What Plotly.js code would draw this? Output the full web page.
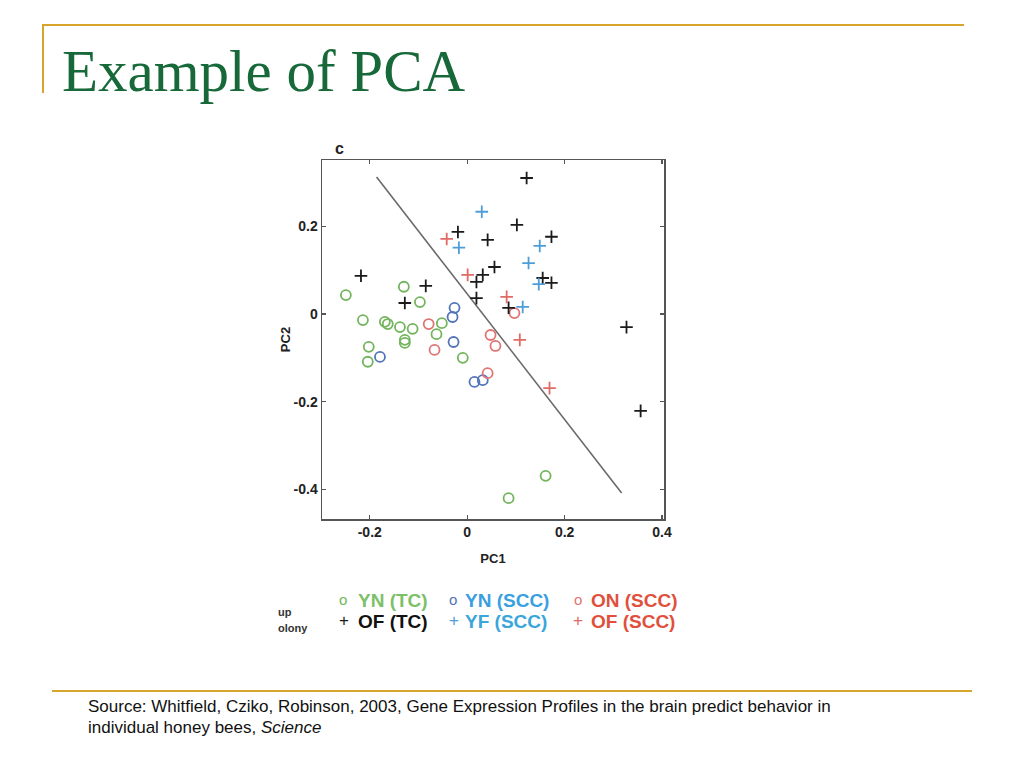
<!DOCTYPE html>
<html>
<head>
<meta charset="utf-8">
<script src="https://cdn.plot.ly/plotly-3.0.1.min.js"></script>
<style>
  html, body { margin:0; padding:0; background:#ffffff; }
  #wrap { position:relative; width:1024px; height:768px; overflow:hidden; background:#fff; }
  #chart { position:absolute; left:0; top:0; width:1024px; height:768px; }
  .gold { position:absolute; background:#d6a52a; }
  #slideTitle { position:absolute; left:62px; top:42px; font-family:"Liberation Serif","DejaVu Serif",serif;
    font-size:59px; line-height:59px; color:#17693a; white-space:nowrap; }
  #source { position:absolute; left:88px; top:696px; font-family:"Liberation Sans",Arial,sans-serif;
    font-size:17px; line-height:21px; color:#111; white-space:nowrap; }
</style>
</head>
<body>
<div id="wrap">
  <div id="chart"></div>
  <div class="gold" style="left:42px; top:24px; width:922px; height:2px;"></div>
  <div class="gold" style="left:42px; top:24px; width:2px; height:69px;"></div>
  <div class="gold" style="left:52px; top:690px; width:920px; height:2px;"></div>
  <div id="slideTitle">Example of PCA</div>
  <div id="source">Source: Whitfield, Cziko, Robinson, 2003, Gene Expression Profiles in the brain predict behavior in<br>individual honey bees, <i>Science</i></div>
</div>
<script>
// ---- data ----
var ynTC_x  = [-0.249,-0.130,-0.097,-0.214,-0.169,-0.163,-0.138,-0.112,-0.128,-0.128,-0.052,-0.063,-0.202,-0.204,-0.009,0.161,0.085];
var ynTC_y  = [0.043,0.062,0.027,-0.014,-0.018,-0.023,-0.030,-0.034,-0.059,-0.066,-0.021,-0.046,-0.075,-0.109,-0.100,-0.369,-0.420];

var ynSCC_x = [-0.026,-0.030,-0.028,-0.179,0.015,0.032];
var ynSCC_y = [0.014,-0.007,-0.064,-0.098,-0.155,-0.151];

var onSCC_x = [-0.079,-0.067,0.048,0.058,0.042,0.097];
var onSCC_y = [-0.023,-0.082,-0.048,-0.073,-0.135,0.002];

var ofTC_x  = [-0.218,-0.085,-0.128,-0.019,0.042,0.122,0.102,0.173,0.056,0.032,0.019,0.019,0.155,0.173,0.085,0.327,0.356];
var ofTC_y  = [0.087,0.064,0.025,0.187,0.169,0.310,0.203,0.176,0.107,0.089,0.073,0.036,0.082,0.071,0.014,-0.030,-0.221];

var yfSCC_x = [0.030,-0.017,0.149,0.126,0.147,0.114];
var yfSCC_y = [0.233,0.151,0.155,0.116,0.068,0.016];

var ofSCC_x = [-0.042,0.001,0.081,0.108,0.169];
var ofSCC_y = [0.171,0.089,0.039,-0.059,-0.169];

var sepLine_x = [-0.186,0.317];
var sepLine_y = [0.312,-0.408];

var xTickVals = [-0.2,0,0.2,0.4];
var xTickText = ["-0.2","0","0.2","0.4"];
var yTickVals = [0.2,0,-0.2,-0.4];
var yTickText = ["0.2","0","-0.2","-0.4"];

var legendRow1 = ["YN (TC)","YN (SCC)","ON (SCC)"];
var legendRow2 = ["OF (TC)","YF (SCC)","OF (SCC)"];

// ---- styles ----
var colGreen = "#72b55c", colBlueO = "#5274b8", colRedO = "#e07474",
    colBlack = "#1a1a1a", colBlueP = "#4d9ed8", colRedP = "#e06a64";

function circ(x,y,c,name){ return {type:"scatter",mode:"markers",x:x,y:y,name:name,showlegend:false,
  marker:{symbol:"circle-open",size:10,color:c,line:{width:1.8,color:c}},hoverinfo:"x+y+name"}; }
function plus(x,y,c,name){ return {type:"scatter",mode:"markers",x:x,y:y,name:name,showlegend:false,
  marker:{symbol:"cross-thin-open",size:9,color:c,line:{width:1.8,color:c}},hoverinfo:"x+y+name"}; }

var traces = [
  {type:"scatter",mode:"lines",x:sepLine_x,y:sepLine_y,showlegend:false,hoverinfo:"skip",
   line:{color:"#6a6a6a",width:1.6}},
  circ(ynTC_x,ynTC_y,colGreen,legendRow1[0]),
  circ(ynSCC_x,ynSCC_y,colBlueO,legendRow1[1]),
  circ(onSCC_x,onSCC_y,colRedO,legendRow1[2]),
  plus(ofTC_x,ofTC_y,colBlack,legendRow2[0]),
  plus(yfSCC_x,yfSCC_y,colBlueP,legendRow2[1]),
  plus(ofSCC_x,ofSCC_y,colRedP,legendRow2[2])
];

// plot box in page pixels
var L=322, R=664, T=160, B=519;
function px(x){ return (x-L)/(R-L); }
function py(y){ return (B-y)/(B-T); }

var fnt = "Liberation Sans, Arial, sans-serif";
function ann(text,x,y,size,color,xanchor,weight){
  return {text:text,xref:"paper",yref:"paper",x:px(x),y:py(y),xanchor:xanchor||"left",yanchor:"middle",
    showarrow:false,font:{family:fnt,size:size,color:color,weight:weight||"bold"}};
}

var annotations = [
  ann("c",333,148,16,"#222","left"),
  // legend glyphs
  ann("o",343,599,15,colGreen,"center","normal"),
  ann("o",453,599,15,colBlueO,"center","normal"),
  ann("o",578,599,15,colRedO,"center","normal"),
  ann("+",344,620,17,colBlack,"center","normal"),
  ann("+",454,620,17,colBlueP,"center","normal"),
  ann("+",578,620,17,colRedP,"center","normal"),
  // legend labels
  ann(legendRow1[0],356,600,19,"#7cc067","left"),
  ann(legendRow1[1],463,600,19,"#3a9fe0","left"),
  ann(legendRow1[2],589,600,19,"#e0503c","left"),
  ann(legendRow2[0],356,621,19,"#111","left"),
  ann(legendRow2[1],463,621,19,"#3aa6da","left"),
  ann(legendRow2[2],589,621,19,"#e0503c","left"),
  // cropped group labels
  ann("up",276,612,11,"#333","left"),
  ann("olony",276,628,11,"#333","left")
];

var axisCommon = {showline:true,mirror:"ticks",linecolor:"#555",linewidth:1.5,ticks:"inside",ticklen:4,
  tickcolor:"#555",tickwidth:1.2,showgrid:false,zeroline:false,tickmode:"array",
  tickfont:{family:fnt,size:14,color:"#222",weight:"bold"}};

var layout = {
  width:1024,height:768,
  margin:{l:L,r:1024-R,t:T,b:768-B,pad:0},
  paper_bgcolor:"#ffffff",plot_bgcolor:"#ffffff",
  showlegend:false,
  xaxis:Object.assign({},axisCommon,{range:[-0.298,0.404],tickvals:xTickVals,ticktext:xTickText,
    title:{text:"PC1",font:{family:fnt,size:13,color:"#222",weight:"bold"},standoff:14}}),
  yaxis:Object.assign({},axisCommon,{range:[-0.4675,0.351],tickvals:yTickVals,ticktext:yTickText,
    title:{text:"PC2",font:{family:fnt,size:13,color:"#222",weight:"bold"},standoff:0}}),
  annotations:annotations
};

Plotly.newPlot("chart",traces,layout,{displayModeBar:false,staticPlot:true});
</script>
</body>
</html>
